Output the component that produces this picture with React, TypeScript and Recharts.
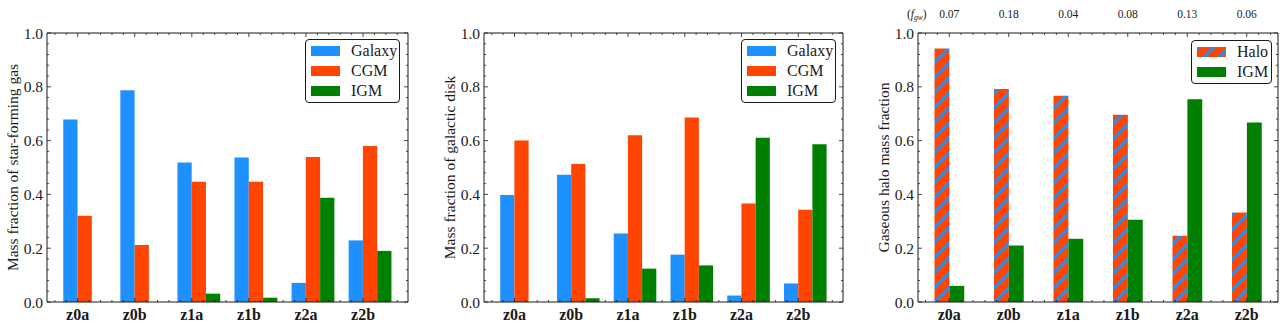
import { BarChart, Bar, XAxis, YAxis, Legend, Label } from 'recharts';

const categories = ['z0a', 'z0b', 'z1a', 'z1b', 'z2a', 'z2b'];

// star-forming gas
const sfGalaxy = [0.678, 0.787, 0.519, 0.537, 0.071, 0.229];
const sfCGM = [0.321, 0.212, 0.447, 0.447, 0.539, 0.58];
const sfIGM = [0, 0, 0.031, 0.016, 0.388, 0.19];

// galactic disk
const diskGalaxy = [0.398, 0.473, 0.255, 0.176, 0.024, 0.069];
const diskCGM = [0.6, 0.513, 0.62, 0.686, 0.366, 0.343];
const diskIGM = [0, 0.014, 0.124, 0.136, 0.611, 0.586];

// gaseous halo
const haloHalo = [0.942, 0.792, 0.767, 0.696, 0.246, 0.333];
const haloIGM = [0.06, 0.21, 0.235, 0.306, 0.754, 0.667];
const fgw = ['0.07', '0.18', '0.04', '0.08', '0.13', '0.06'];

const yMajor = [0, 0.2, 0.4, 0.6, 0.8, 1.0];
const xMajor = [0, 1, 2, 3, 4, 5];

const FONT = "'Liberation Serif', 'Times New Roman', serif";
const INK = '#1a1a1a';

const BLUE = '#1e90ff';
const RED = '#ff4500';
const GREEN = '#008000';

type Series = { key: string; name: string; values: number[]; fill: string };

type PanelProps = {
  left: number;
  width: number;
  plot: { left: number; right: number; top: number; bottom: number };
  yLabel: string;
  series: Series[];
  domain: [number, number];
  groupShift: number;
  legend: { left: number; top: number; w: number; h: number };
  topLabels?: string[];
};

function range(a: number, b: number, step: number) {
  const out: number[] = [];
  for (let v = a; v <= b + 1e-9; v += step) out.push(Math.round(v * 1000) / 1000);
  return out;
}

const isMajor = (v: number, list: number[]) => list.some(m => Math.abs(m - v) < 1e-6);

function Panel({ left, width, plot, yLabel, series, domain, groupShift, legend, topLabels }: PanelProps) {
  const height = 325;
  // every axis is 1px thick, the margin puts the plot box where we want it
  const margin = { top: plot.top - 1, right: width - plot.right - 1, bottom: height - plot.bottom - 1, left: plot.left - 1 };
  const plotW = plot.right - plot.left;
  const barSize = (plotW / (domain[1] - domain[0])) * 0.25;

  const data = categories.map((c, i) => {
    const row: Record<string, number | string> = { name: c, pos: i + groupShift };
    series.forEach(s => (row[s.key] = s.values[i]));
    return row;
  });

  const xTicks = range(Math.ceil(domain[0] * 5) / 5, domain[1], 0.2);
  const yTicks = range(0, 1, 0.04);

  // bottom axis tick also draws the mirrored top tick and the f_gw numbers
  const bottomTick = (p: any) => {
    const v = p.payload.value;
    const major = isMajor(v, xMajor);
    const len = major ? 4 : 2;
    return (
      <g>
        <line x1={p.x} x2={p.x} y1={p.y} y2={p.y - len} stroke={INK} strokeWidth={0.8} />
        <line x1={p.x} x2={p.x} y1={plot.top} y2={plot.top + len} stroke={INK} strokeWidth={0.8} />
        {major && (
          <text x={p.x} y={p.y + 18} textAnchor="middle" fontFamily={FONT} fontSize={16} fontWeight="bold" fill={INK}>
            {categories[v]}
          </text>
        )}
        {major && topLabels && (
          <text x={p.x} y={plot.top - 15} textAnchor="middle" fontFamily={FONT} fontSize={11.5} fill={INK}>
            {topLabels[v]}
          </text>
        )}
      </g>
    );
  };

  const leftTick = (p: any) => {
    const v = p.payload.value;
    const major = isMajor(v, yMajor);
    const len = major ? 4 : 2;
    return (
      <g>
        <line x1={p.x} x2={p.x + len} y1={p.y} y2={p.y} stroke={INK} strokeWidth={0.8} />
        <line x1={plot.right} x2={plot.right - len} y1={p.y} y2={p.y} stroke={INK} strokeWidth={0.8} />
        {major && (
          <text x={p.x - 4} y={p.y} textAnchor="end" dominantBaseline="central" fontFamily={FONT} fontSize={15.5} fill={INK}>
            {v.toFixed(1)}
          </text>
        )}
      </g>
    );
  };

  const renderLegend = () => (
    <div
      style={{
        width: legend.w,
        height: legend.h,
        boxSizing: 'border-box',
        border: `1.3px solid ${INK}`,
        borderRadius: 4,
        background: '#fff',
        padding: '1px 0 0 5px',
        fontFamily: FONT,
        fontSize: 16,
        color: INK,
      }}
    >
      {series.map(s => (
        <div key={s.key} style={{ display: 'flex', alignItems: 'center', height: 20 }}>
          <svg width={29} height={10} style={{ display: 'block' }}>
            <rect width={29} height={10} fill={s.fill} />
          </svg>
          <span style={{ marginLeft: 11, lineHeight: '20px' }}>{s.name}</span>
        </div>
      ))}
    </div>
  );

  const yTitle = (props: any) => {
    const vb = props.viewBox;
    const cx = plot.left - 35;
    const cy = vb.y + vb.height / 2;
    return (
      <text
        x={cx}
        y={cy}
        transform={`rotate(-90 ${cx} ${cy})`}
        textAnchor="middle"
        dominantBaseline="central"
        fontFamily={FONT}
        fontSize={15.5}
        fill={INK}
      >
        {yLabel}
      </text>
    );
  };

  const fgwTitle = () => (
    <text x={plot.left - 11} y={plot.top - 15} fontFamily={FONT} fontSize={11.5} fill={INK}>
      (<tspan fontStyle="italic">f</tspan>
      <tspan fontStyle="italic" fontSize={7.5} dy={2}>gw</tspan>
      <tspan dy={-2}>)</tspan>
    </text>
  );

  const axisLine = { stroke: INK, strokeWidth: 1 };

  return (
    <div style={{ position: 'absolute', left, top: 0 }}>
      <BarChart width={width} height={height} data={data} margin={margin} barGap={0}>
        <defs>
          <pattern id="hatch" patternUnits="userSpaceOnUse" width={10.6} height={10.6} patternTransform="rotate(45)">
            <rect width={10.6} height={10.6} fill={RED} />
            <rect width={3} height={10.6} fill={BLUE} />
          </pattern>
        </defs>
        <XAxis
          xAxisId="b"
          type="number"
          dataKey="pos"
          domain={domain}
          allowDataOverflow
          ticks={xTicks}
          interval={0}
          height={1}
          tickSize={0}
          tickMargin={0}
          tickLine={false}
          axisLine={axisLine}
          tick={bottomTick}
        />
        <XAxis
          xAxisId="t"
          orientation="top"
          type="number"
          dataKey="pos"
          domain={domain}
          allowDataOverflow
          height={1}
          tick={false}
          tickLine={false}
          axisLine={axisLine}
        >
          {topLabels && <Label content={fgwTitle} />}
        </XAxis>
        <YAxis
          yAxisId="l"
          domain={[0, 1]}
          allowDataOverflow
          ticks={yTicks}
          interval={0}
          width={1}
          tickSize={0}
          tickMargin={0}
          tickLine={false}
          axisLine={axisLine}
          tick={leftTick}
        >
          <Label content={yTitle} />
        </YAxis>
        <YAxis
          yAxisId="r"
          orientation="right"
          domain={[0, 1]}
          allowDataOverflow
          width={1}
          tick={false}
          tickLine={false}
          axisLine={axisLine}
        />
        <Legend
          layout="vertical"
          align="center"
          verticalAlign="middle"
          content={renderLegend}
          wrapperStyle={{ left: legend.left, top: legend.top, width: legend.w, height: legend.h }}
        />
        {series.map(s => (
          <Bar
            key={s.key}
            xAxisId="b"
            yAxisId="l"
            dataKey={s.key}
            name={s.name}
            fill={s.fill}
            barSize={barSize}
            isAnimationActive={false}
          />
        ))}
      </BarChart>
    </div>
  );
}

export default function App() {
  return (
    <div style={{ position: 'absolute', left: 0, top: 0, width: 1285, height: 325, background: '#fff' }}>
      <Panel
        left={0}
        width={430}
        plot={{ left: 47, right: 408, top: 33, bottom: 302 }}
        yLabel="Mass fraction of star-forming gas"
        domain={[-0.5375, 5.7875]}
        groupShift={0.125}
        legend={{ left: 305, top: 39, w: 95, h: 64 }}
        series={[
          { key: 'galaxy', name: 'Galaxy', values: sfGalaxy, fill: BLUE },
          { key: 'cgm', name: 'CGM', values: sfCGM, fill: RED },
          { key: 'igm', name: 'IGM', values: sfIGM, fill: GREEN },
        ]}
      />
      <Panel
        left={430}
        width={430}
        plot={{ left: 54, right: 413, top: 33, bottom: 302 }}
        yLabel="Mass fraction of galactic disk"
        domain={[-0.5375, 5.7875]}
        groupShift={0.125}
        legend={{ left: 311, top: 39, w: 95, h: 64 }}
        series={[
          { key: 'galaxy', name: 'Galaxy', values: diskGalaxy, fill: BLUE },
          { key: 'cgm', name: 'CGM', values: diskCGM, fill: RED },
          { key: 'igm', name: 'IGM', values: diskIGM, fill: GREEN },
        ]}
      />
      <Panel
        left={860}
        width={425}
        plot={{ left: 58, right: 418, top: 33, bottom: 302 }}
        yLabel="Gaseous halo mass fraction"
        domain={[-0.525, 5.525]}
        groupShift={0}
        legend={{ left: 331, top: 40, w: 81, h: 44 }}
        topLabels={fgw}
        series={[
          { key: 'halo', name: 'Halo', values: haloHalo, fill: 'url(#hatch)' },
          { key: 'igm', name: 'IGM', values: haloIGM, fill: GREEN },
        ]}
      />
    </div>
  );
}
